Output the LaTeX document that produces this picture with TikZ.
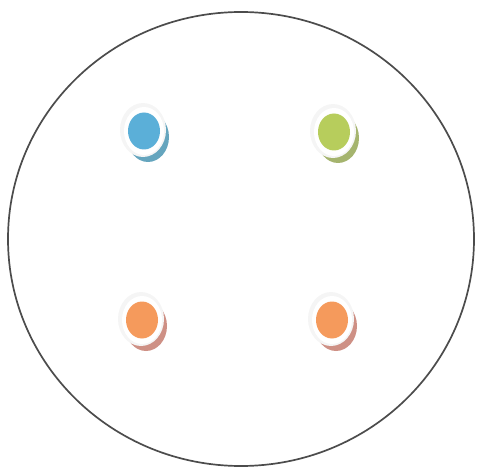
\documentclass[tikz,border=0pt]{standalone}
\definecolor{dotblue}{HTML}{5BAFD8}
\definecolor{shblue}{HTML}{3E8FAE}
\definecolor{dotgreen}{HTML}{B7CD5C}
\definecolor{shgreen}{HTML}{8FA14A}
\definecolor{dotorange}{HTML}{F59A5C}
\definecolor{shorange}{HTML}{C27466}
\tikzset{
  dish/.style={draw=black!70, line width=1.7pt},
  halo/.style={fill=gray!8, draw=none},
}
\begin{document}
\begin{tikzpicture}[x=1pt,y=-1pt]
\useasboundingbox (0,0) rectangle (477,468);
\draw[dish] (241,239) ellipse (233 and 227);
% spots: shadow, halo, colour
\foreach \x/\y/\c/\s in {144/131/dotblue/shblue, 334/132/dotgreen/shgreen, 142/320/dotorange/shorange, 332/320/dotorange/shorange}{
  \fill[\s!80] (\x+4,\y+6) ellipse (21 and 25);
  \fill[halo] (\x-1,\y-1) ellipse (23 and 27);
  \fill[white] (\x,\y) ellipse (20 and 24);
  \fill[\c] (\x,\y) ellipse (16 and 18.5);
}
\end{tikzpicture}
\end{document}
